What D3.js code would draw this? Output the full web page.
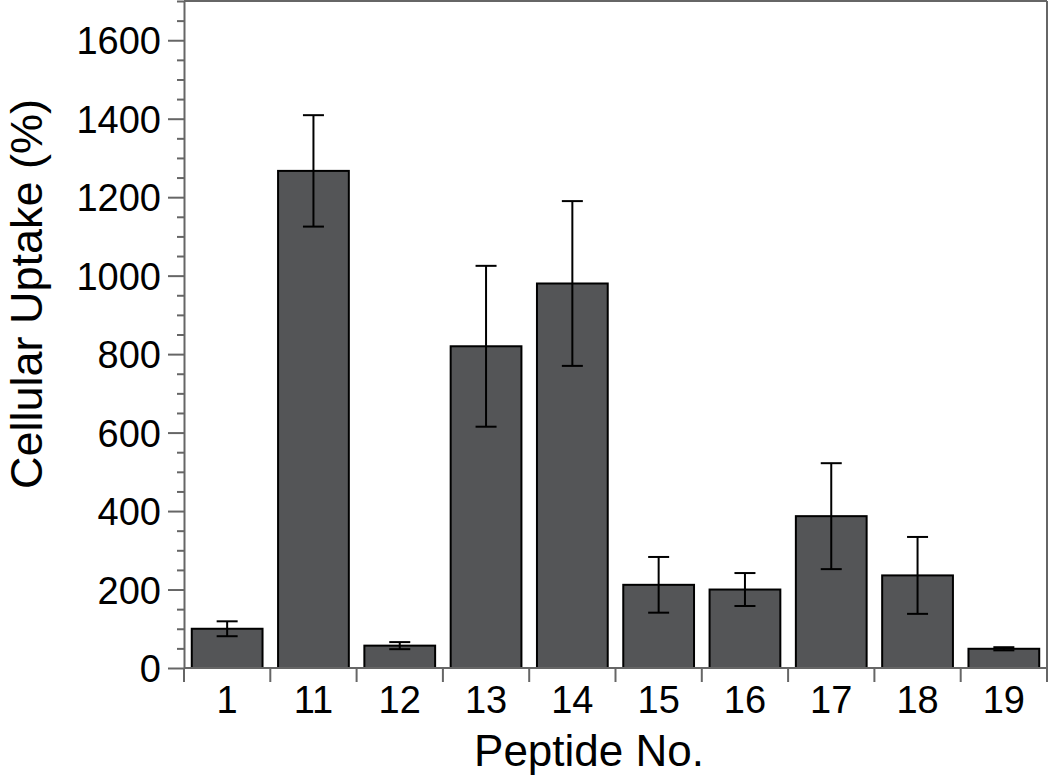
<!DOCTYPE html>
<html><head><meta charset="utf-8">
<script src="https://cdn.jsdelivr.net/npm/d3@7"></script>
<style>body{margin:0;background:#fff;} text{font-family:"Liberation Sans",Arial,sans-serif;fill:#000;}</style>
</head><body>
<svg id="c" width="1050" height="777"></svg>
<script>
const categories = ["1","11","12","13","14","15","16","17","18","19"];
const values = [100,1267,57,820,980,212,200,387,236,49];
const errors = [19,142,9,205,210,71,42,135,98,4];
const yTicks = [0,200,400,600,800,1000,1200,1400,1600];

const svg = d3.select("#c");
const L=184, R=1047, T=1, B=668;
const x = d3.scaleBand().domain(categories).range([L,R]).paddingInner(0.18).paddingOuter(0.09);
const y = d3.scaleLinear().domain([0,1700]).range([B,T]);
const axisCol="#666";

// frame top/right
svg.append("line").attr("x1",L).attr("x2",R).attr("y1",T).attr("y2",T).attr("stroke",axisCol).attr("stroke-width",2);
svg.append("line").attr("x1",R).attr("x2",R).attr("y1",T).attr("y2",B).attr("stroke",axisCol).attr("stroke-width",2);

// bars
svg.selectAll("rect.bar").data(categories).enter().append("rect")
  .attr("x",d=>x(d)).attr("width",x.bandwidth())
  .attr("y",(d,i)=>y(values[i])).attr("height",(d,i)=>B-y(values[i]))
  .attr("fill","#545557").attr("stroke","#000").attr("stroke-width",2);

// error bars
const cap=10.5;
categories.forEach((d,i)=>{
  const cx=x(d)+x.bandwidth()/2;
  const g=svg.append("g").attr("stroke","#000").attr("stroke-width",2);
  g.append("line").attr("x1",cx).attr("x2",cx).attr("y1",y(values[i]+errors[i])).attr("y2",y(values[i]-errors[i]));
  g.append("line").attr("x1",cx-cap).attr("x2",cx+cap).attr("y1",y(values[i]+errors[i])).attr("y2",y(values[i]+errors[i]));
  g.append("line").attr("x1",cx-cap).attr("x2",cx+cap).attr("y1",y(values[i]-errors[i])).attr("y2",y(values[i]-errors[i]));
});

// y axis minor ticks
const yMinor = svg.append("g").attr("transform",`translate(${L},0)`)
  .call(d3.axisLeft(y).tickValues(d3.range(0,1701,50).filter(v=>v%200!==0)).tickSize(7).tickFormat(""));
yMinor.select(".domain").remove();
yMinor.selectAll("line").attr("stroke",axisCol).attr("stroke-width",2);
// y axis major
const yAx = svg.append("g").attr("transform",`translate(${L},0)`)
  .call(d3.axisLeft(y).tickValues(yTicks).tickFormat(d3.format("d")).tickSize(16).tickPadding(7).tickSizeOuter(0));
yAx.select(".domain").attr("stroke",axisCol).attr("stroke-width",2);
yAx.selectAll("line").attr("stroke",axisCol).attr("stroke-width",2);
yAx.selectAll("text").style("font-size","38px").attr("fill","#000").attr("dy","0.36em");

// x axis
svg.append("line").attr("x1",L).attr("x2",R).attr("y1",B).attr("y2",B).attr("stroke",axisCol).attr("stroke-width",2);
const xAx = svg.append("g").attr("transform",`translate(0,${B})`)
  .call(d3.axisBottom(x).tickSize(0).tickPadding(18));
xAx.select(".domain").remove();
xAx.selectAll("text").style("font-size","38px").attr("fill","#000").attr("dy","0.71em");
// boundary ticks
const bounds = categories.map(d=>x(d)-x.step()*x.paddingInner()/2).concat([R]);
bounds[0]=L;
svg.selectAll("line.bt").data(bounds).enter().append("line")
  .attr("x1",d=>d).attr("x2",d=>d).attr("y1",B).attr("y2",B+14)
  .attr("stroke",axisCol).attr("stroke-width",2);

// titles
svg.append("text").attr("x",589).attr("y",766).attr("text-anchor","middle").style("font-size","44px").text("Peptide No.");
svg.append("text").attr("transform","translate(42,294) rotate(-90)").attr("text-anchor","middle").style("font-size","45px").text("Cellular Uptake (%)");
</script>
</body></html>
